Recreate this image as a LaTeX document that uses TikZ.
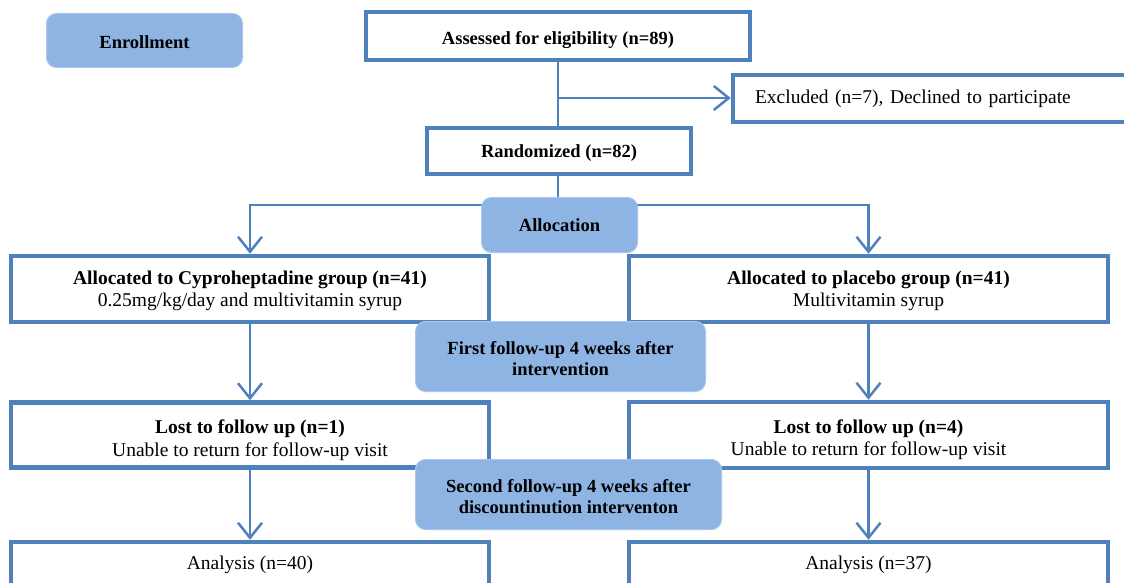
\documentclass[tikz,border=0pt]{standalone}
\usepackage{fontspec}
\setmainfont{Liberation Serif}
\usepackage{tikz}
\usetikzlibrary{positioning,arrows.meta}
\definecolor{boxblue}{RGB}{79,129,189}
\definecolor{fillblue}{RGB}{142,180,227}
\definecolor{edgeblue}{RGB}{170,198,236}
\newcommand{\topgap}[1]{\rule{0pt}{#1}}
\tikzset{
  sqbox/.style={draw=boxblue, line width=4.5pt, fill=white, align=center, inner sep=0pt,
    font=\fontsize{19.5}{22.5}\selectfont},
  hdbox/.style={sqbox, font=\bfseries\fontsize{18.5}{21}\selectfont},
  rndbox/.style={draw=edgeblue, line width=1pt, fill=fillblue, rounded corners=10pt,
    align=center, inner sep=0pt, font=\bfseries\fontsize{18.5}{21}\selectfont},
  flow/.style={draw=boxblue, line width=2.5pt},
  arr/.style={flow, -{Straight Barb[length=15pt,width=24pt,line width=2.5pt]}}
}
\begin{document}
\begin{tikzpicture}[x=1pt,y=-1pt]
\useasboundingbox (0,0) rectangle (1124,583);
\clip (0,0) rectangle (1124,583);
% stages
\node[rndbox, minimum width=196pt, minimum height=54pt] (enrol) at (144.5,40.5) {\topgap{17pt}Enrollment};
\node[hdbox, minimum width=384pt, minimum height=48pt] (assess) at (558,36) {\topgap{21pt}Assessed for eligibility (n=89)};
\node[sqbox, minimum width=400pt, minimum height=47pt, text width=380pt, align=left] (excl) at (933,98.5)
  {\hspace*{12pt}Excluded (n=7), Declined to participate};
\node[hdbox, minimum width=264pt, minimum height=46pt] (rand) at (559,151) {\topgap{17pt}Randomized (n=82)};
% groups
\node[sqbox, minimum width=478pt, minimum height=66pt] (grpA) at (250,289)
  {\topgap{17.5pt}\textbf{Allocated to Cyproheptadine group (n=41)}\\0.25mg/kg/day and multivitamin syrup};
\node[sqbox, minimum width=479pt, minimum height=66pt] (grpB) at (868.5,289)
  {\topgap{17.5pt}\textbf{Allocated to placebo group (n=41)}\\Multivitamin syrup};
\node[sqbox, minimum width=478pt, minimum height=65pt] (lostA) at (250,435)
  {\topgap{24pt}\textbf{Lost to follow up (n=1)}\\Unable to return for follow-up visit};
\node[sqbox, minimum width=479pt, minimum height=66pt] (lostB) at (868.5,435)
  {\topgap{23pt}\textbf{Lost to follow up (n=4)}\\Unable to return for follow-up visit};
\node[sqbox, minimum width=478pt, minimum height=46pt] (anaA) at (250,565) {Analysis (n=40)};
\node[sqbox, minimum width=479pt, minimum height=46pt] (anaB) at (868.5,565) {Analysis (n=37)};
% connectors
\coordinate (j1) at (558,98);
\coordinate (j2) at (558,205);
\draw[flow] (assess.south) -- (assess.south |- rand.north);
\draw[arr] (j1) -- (j1 -| excl.west);
\draw[flow] (assess.south |- rand.south) -- (j2);
\draw[arr] (j2) -| (grpA.north);
\draw[arr] (j2) -| (grpB.north);
\draw[arr] (grpA.south) -- (lostA.north);
\draw[arr] (grpB.south) -- (lostB.north);
\draw[arr] (lostA.south) -- (anaA.north);
\draw[arr] (lostB.south) -- (anaB.north);
% labels on top
\node[rndbox, minimum width=156pt, minimum height=55pt] (alloc) at (559.5,225) {Allocation};
\node[rndbox, minimum width=290pt, minimum height=70pt] (fu1) at (560.5,356.5)
  {\topgap{16.5pt}First follow-up 4 weeks after\\intervention};
\node[rndbox, minimum width=306pt, minimum height=70pt] (fu2) at (568.5,494.5)
  {\topgap{16.5pt}Second follow-up 4 weeks after\\discountinution interventon};
\end{tikzpicture}
\end{document}
